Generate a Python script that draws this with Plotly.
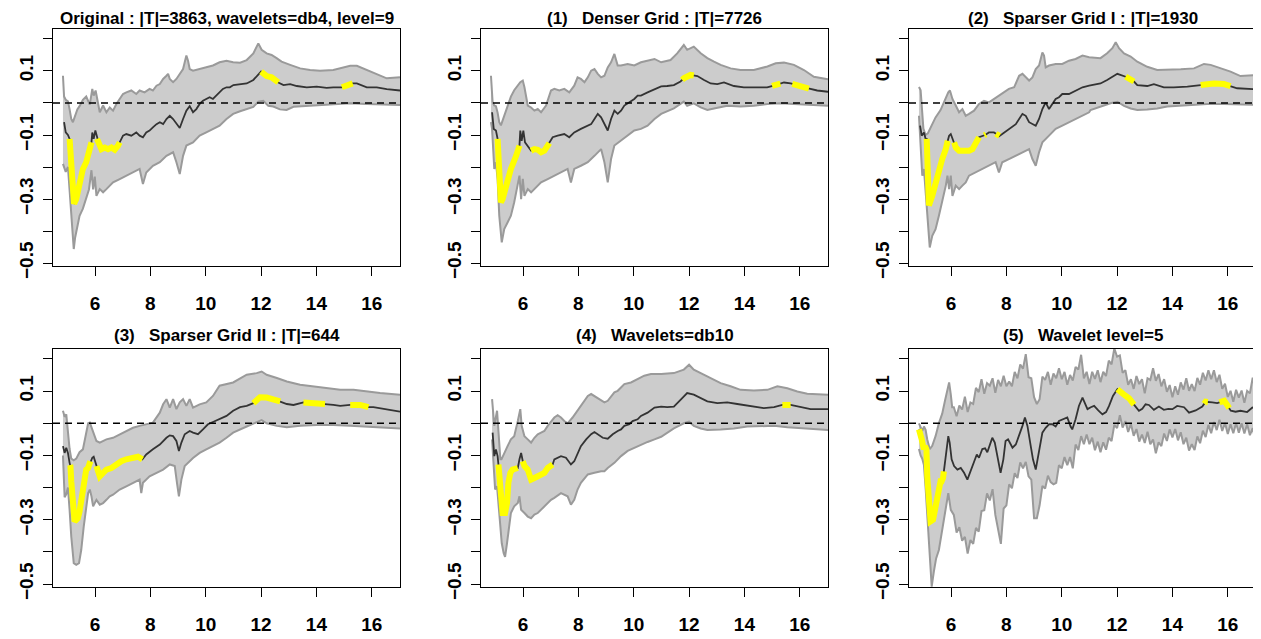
import numpy as np
import plotly.graph_objects as go

# ---------------- axes / labels ----------------
X_RANGE = [4.48, 17.02]
Y_RANGE = [-0.509, 0.231]
X_TICKS = [6, 8, 10, 12, 14, 16]
Y_TICKS = [-0.5, -0.4, -0.3, -0.2, -0.1, 0.0, 0.1, 0.2]
Y_TICK_TEXT = ["\u22120.5", "", "\u22120.3", "", "\u22120.1", "", "0.1", ""]

TITLES = [
    "Original : |T|=3863, wavelets=db4, level=9",
    "(1)   Denser Grid : |T|=7726",
    "(2)   Sparser Grid I : |T|=1930",
    "(3)   Sparser Grid II : |T|=644",
    "(4)   Wavelets=db10",
    "(5)   Wavelet level=5",
]

# ---------------- panel 1 : Original ----------------
p1_mean = [(4.88,-0.06),(4.94,-0.092),(5.02,-0.10),(5.08,-0.112),(5.14,-0.185),(5.20,-0.28),(5.24,-0.315),
    (5.32,-0.30),(5.42,-0.25),(5.56,-0.206),(5.68,-0.185),(5.78,-0.154),(5.87,-0.123),(5.90,-0.092),(5.95,-0.112),
    (6.01,-0.086),(6.07,-0.112),(6.11,-0.118),(6.23,-0.144),(6.35,-0.139),(6.47,-0.144),(6.59,-0.139),(6.71,-0.146),
    (6.83,-0.133),(6.89,-0.123),(7.01,-0.102),(7.13,-0.097),(7.31,-0.102),(7.49,-0.092),(7.61,-0.102),(7.73,-0.107),
    (7.85,-0.092),(7.97,-0.086),(8.09,-0.076),(8.22,-0.066),(8.34,-0.060),(8.46,-0.066),(8.58,-0.050),(8.70,-0.040),
    (8.82,-0.050),(8.94,-0.066),(9.06,-0.078),(9.18,-0.050),(9.30,-0.024),(9.42,-0.010),(9.54,-0.029),(9.66,-0.019),
    (9.78,-0.003),(9.90,0.007),(10.02,0.0125),(10.14,0.018),(10.26,0.0125),(10.38,0.023),(10.50,0.033),(10.62,0.044),
    (10.75,0.049),(10.87,0.049),(11.0,0.056),(11.24,0.058),(11.48,0.061),(11.72,0.072),(11.84,0.084),(12.0,0.098),
    (12.2,0.084),(12.38,0.080),(12.5,0.072),(12.62,0.064),(12.81,0.056),(13.05,0.059),(13.29,0.053),(13.65,0.049),
    (14.01,0.051),(14.37,0.047),(14.61,0.049),(14.92,0.049),(15.31,0.061),(15.46,0.061),(15.82,0.049),(16.18,0.049),
    (16.54,0.043),(17.02,0.039)]
p1_upper = [(4.84,0.085),(4.88,0.02),(4.94,0.01),(5.02,0.005),(5.08,-0.02),(5.14,-0.05),(5.20,-0.06),(5.28,-0.04),
    (5.36,-0.02),(5.44,-0.01),(5.56,0.01),(5.68,0.02),(5.81,-0.005),(5.90,0.044),(5.95,0.023),(6.02,0.039),
    (6.11,-0.008),(6.17,-0.029),(6.29,-0.008),(6.41,-0.029),(6.53,-0.014),(6.65,-0.024),(6.77,-0.003),(6.89,0.0125),
    (7.01,0.028),(7.13,0.033),(7.31,0.039),(7.49,0.028),(7.61,0.039),(7.79,0.033),(7.97,0.044),(8.09,0.039),
    (8.22,0.054),(8.34,0.059),(8.46,0.075),(8.58,0.085),(8.64,0.091),(8.70,0.075),(8.82,0.065),(8.94,0.075),
    (9.06,0.091),(9.18,0.106),(9.24,0.127),(9.30,0.148),(9.36,0.132),(9.42,0.106),(9.54,0.101),(9.78,0.106),
    (10.02,0.111),(10.26,0.117),(10.50,0.127),(10.75,0.132),(10.99,0.127),(11.24,0.126),(11.48,0.134),(11.72,0.155),
    (11.9,0.186),(12.02,0.166),(12.2,0.155),(12.38,0.150),(12.56,0.140),(12.74,0.129),(13.05,0.119),(13.41,0.108),
    (13.77,0.103),(14.13,0.101),(14.61,0.103),(14.98,0.110),(15.22,0.116),(15.46,0.116),(15.82,0.103),(16.18,0.091),
    (16.54,0.077),(17.02,0.080)]
p1_lower = [(4.84,-0.19),(4.94,-0.215),(5.02,-0.20),(5.08,-0.28),(5.14,-0.35),(5.20,-0.42),(5.23,-0.456),(5.28,-0.42),
    (5.32,-0.40),(5.44,-0.352),(5.56,-0.33),(5.68,-0.30),(5.78,-0.27),(5.87,-0.21),(5.93,-0.27),(5.99,-0.23),
    (6.05,-0.29),(6.17,-0.269),(6.29,-0.279),(6.41,-0.269),(6.53,-0.258),(6.65,-0.248),(6.89,-0.2375),(7.13,-0.227),
    (7.37,-0.217),(7.61,-0.206),(7.73,-0.253),(7.85,-0.217),(8.09,-0.196),(8.34,-0.185),(8.58,-0.165),(8.82,-0.154),
    (8.94,-0.185),(9.06,-0.222),(9.18,-0.165),(9.30,-0.133),(9.54,-0.123),(9.78,-0.102),(10.02,-0.092),(10.26,-0.081),
    (10.50,-0.071),(10.75,-0.050),(10.99,-0.034),(11.24,-0.026),(11.48,-0.02),(11.72,-0.012),(11.9,0.004),(12.08,0.007),
    (12.26,-0.009),(12.44,-0.011),(12.68,-0.02),(12.92,-0.022),(13.17,-0.012),(13.65,-0.009),(14.13,-0.007),
    (14.61,-0.003),(15.22,-0.001),(15.82,-0.003),(16.42,-0.004),(17.02,-0.006)]
p1_yellow = [(5.08,5.87),(6.07,6.89),(12.0,12.62),(14.92,15.31)]

# ---------------- panel 2 : Denser grid ----------------
p2_mean = [(4.88,-0.029),(4.94,-0.081),(5.02,-0.086),(5.08,-0.112),(5.14,-0.206),(5.20,-0.31),(5.26,-0.30),
    (5.38,-0.258),(5.56,-0.206),(5.75,-0.165),(5.87,-0.133),(5.90,-0.086),(5.95,-0.118),(6.01,-0.086),(6.07,-0.123),
    (6.29,-0.149),(6.41,-0.144),(6.53,-0.146),(6.65,-0.154),(6.77,-0.149),(6.89,-0.133),(6.95,-0.125),(7.07,-0.107),
    (7.25,-0.102),(7.49,-0.097),(7.67,-0.107),(7.85,-0.092),(8.09,-0.081),(8.34,-0.071),(8.46,-0.066),(8.58,-0.050),
    (8.70,-0.034),(8.82,-0.045),(8.94,-0.066),(9.06,-0.086),(9.18,-0.050),(9.30,-0.024),(9.42,-0.034),(9.54,-0.024),
    (9.66,-0.008),(9.90,0.007),(10.02,0.0125),(10.14,0.023),(10.26,0.023),(10.50,0.033),(10.75,0.044),(10.99,0.052),
    (11.21,0.053),(11.45,0.056),(11.69,0.067),(11.81,0.077),(12.05,0.0875),(12.3,0.084),(12.54,0.072),(12.78,0.061),
    (13.02,0.059),(13.26,0.064),(13.62,0.053),(13.98,0.049),(14.34,0.049),(14.82,0.049),(15.13,0.056),(15.43,0.064),
    (15.67,0.061),(15.91,0.056),(16.27,0.046),(16.63,0.039),(17.02,0.035)]
p2_upper = [(4.84,0.085),(4.90,0.002),(4.96,-0.008),(5.02,-0.01),(5.08,-0.03),(5.14,-0.06),(5.20,-0.07),(5.32,-0.04),
    (5.44,-0.01),(5.56,0.02),(5.68,0.04),(5.78,0.05),(5.90,0.065),(5.99,0.070),(6.05,0.049),(6.17,-0.008),
    (6.29,-0.014),(6.41,-0.024),(6.53,-0.019),(6.65,-0.029),(6.83,-0.008),(7.01,0.039),(7.13,0.044),(7.31,0.039),
    (7.49,0.044),(7.67,0.033),(7.85,0.054),(7.97,0.080),(8.09,0.075),(8.22,0.065),(8.34,0.080),(8.46,0.101),
    (8.58,0.106),(8.70,0.091),(8.82,0.080),(8.94,0.085),(9.06,0.111),(9.18,0.127),(9.30,0.153),(9.42,0.117),
    (9.54,0.117),(9.78,0.122),(10.02,0.117),(10.26,0.127),(10.50,0.132),(10.75,0.1375),(10.99,0.127),(11.33,0.134),
    (11.57,0.155),(11.81,0.181),(11.93,0.166),(12.17,0.176),(12.42,0.155),(12.66,0.140),(12.9,0.129),(13.14,0.119),
    (13.5,0.108),(13.86,0.103),(14.34,0.103),(14.83,0.114),(15.13,0.124),(15.43,0.126),(15.79,0.119),(16.15,0.103),
    (16.51,0.082),(17.02,0.074)]
p2_lower = [(4.84,-0.06),(4.88,-0.081),(4.96,-0.206),(5.02,-0.185),(5.08,-0.2375),(5.14,-0.352),(5.23,-0.435),
    (5.32,-0.394),(5.44,-0.373),(5.56,-0.352),(5.68,-0.31),(5.81,-0.248),(5.87,-0.227),(5.93,-0.300),(5.99,-0.237),
    (6.05,-0.29),(6.17,-0.269),(6.29,-0.279),(6.41,-0.269),(6.53,-0.258),(6.65,-0.248),(6.89,-0.2375),(7.13,-0.227),
    (7.37,-0.217),(7.61,-0.206),(7.73,-0.248),(7.85,-0.206),(8.09,-0.196),(8.34,-0.185),(8.58,-0.165),(8.82,-0.144),
    (8.94,-0.185),(9.06,-0.248),(9.18,-0.175),(9.30,-0.133),(9.54,-0.117),(9.78,-0.102),(10.02,-0.086),(10.26,-0.081),
    (10.50,-0.071),(10.75,-0.050),(10.99,-0.034),(11.45,-0.017),(11.81,0.004),(11.93,-0.009),(12.17,-0.001),
    (12.42,-0.014),(12.66,-0.022),(12.9,-0.017),(13.38,-0.009),(13.86,-0.011),(14.34,-0.009),(14.83,-0.003),
    (15.31,-0.001),(15.79,-0.003),(16.27,-0.006),(17.02,-0.009)]
p2_yellow = [(5.08,5.87),(6.29,6.95),(11.75,12.17),(15.0,15.3),(15.73,16.33)]

# ---------------- panel 3 : Sparser grid I ----------------
p3_mean = [(4.88,-0.071),(4.94,-0.102),(5.02,-0.092),(5.08,-0.112),(5.12,-0.112),(5.15,-0.29),(5.20,-0.32),
    (5.32,-0.29),(5.44,-0.248),(5.56,-0.206),(5.68,-0.175),(5.81,-0.144),(5.88,-0.118),(5.93,-0.102),(5.99,-0.097),
    (6.05,-0.112),(6.11,-0.123),(6.17,-0.139),(6.29,-0.149),(6.47,-0.149),(6.65,-0.149),(6.77,-0.144),(6.89,-0.128),
    (7.01,-0.107),(7.23,-0.100),(7.37,-0.092),(7.55,-0.092),(7.64,-0.097),(7.73,-0.104),(7.85,-0.097),(8.09,-0.081),
    (8.34,-0.066),(8.46,-0.050),(8.58,-0.034),(8.70,-0.040),(8.82,-0.060),(9.06,-0.071),(9.18,-0.050),(9.30,-0.019),
    (9.42,0.002),(9.54,-0.019),(9.66,-0.003),(9.78,0.0125),(9.90,0.018),(10.02,0.028),(10.26,0.028),(10.50,0.039),
    (10.75,0.049),(10.99,0.054),(11.4,0.061),(11.64,0.072),(11.89,0.084),(12.01,0.091),(12.31,0.082),(12.61,0.067),
    (12.73,0.056),(13.09,0.053),(13.33,0.059),(13.69,0.049),(14.05,0.049),(14.54,0.051),(15.02,0.056),(15.5,0.061),
    (15.86,0.059),(16.1,0.053),(16.34,0.046),(17.0,0.043)]
p3_upper = [(4.84,0.05),(4.90,0.04),(4.95,-0.02),(5.00,-0.08),(5.08,-0.10),(5.16,-0.095),(5.30,-0.07),(5.44,-0.045),
    (5.62,-0.022),(5.75,0.005),(5.86,0.03),(5.90,0.033),(5.96,0.039),(6.05,0.0125),(6.17,-0.008),(6.29,-0.029),
    (6.41,-0.019),(6.53,-0.04),(6.65,-0.034),(6.83,-0.024),(7.01,-0.003),(7.19,0.007),(7.37,0.002),(7.55,0.0125),
    (7.73,0.023),(7.91,0.033),(8.09,0.044),(8.28,0.049),(8.46,0.085),(8.58,0.091),(8.70,0.080),(8.82,0.070),
    (8.94,0.080),(9.06,0.106),(9.18,0.117),(9.30,0.158),(9.36,0.148),(9.42,0.111),(9.54,0.117),(9.78,0.122),
    (10.02,0.122),(10.26,0.132),(10.50,0.1375),(10.75,0.148),(10.99,0.143),(11.4,0.14),(11.64,0.155),(11.83,0.171),
    (11.95,0.19),(12.07,0.171),(12.25,0.155),(12.49,0.145),(12.73,0.129),(13.09,0.113),(13.45,0.103),(13.81,0.103),
    (14.3,0.105),(14.78,0.108),(15.14,0.122),(15.38,0.119),(15.74,0.108),(16.1,0.098),(16.46,0.084),(17.0,0.0875)]
p3_lower = [(4.84,-0.04),(4.88,-0.10),(4.96,-0.227),(5.02,-0.206),(5.08,-0.269),(5.14,-0.352),(5.23,-0.451),
    (5.32,-0.415),(5.44,-0.394),(5.56,-0.352),(5.68,-0.31),(5.81,-0.258),(5.87,-0.227),(5.93,-0.269),(5.99,-0.227),
    (6.05,-0.29),(6.17,-0.258),(6.29,-0.269),(6.41,-0.258),(6.53,-0.248),(6.65,-0.227),(6.89,-0.217),(7.13,-0.206),
    (7.37,-0.196),(7.61,-0.185),(7.73,-0.217),(7.85,-0.185),(8.09,-0.175),(8.34,-0.165),(8.58,-0.154),(8.82,-0.144),
    (8.94,-0.175),(9.06,-0.196),(9.18,-0.154),(9.30,-0.123),(9.54,-0.102),(9.78,-0.081),(10.02,-0.071),(10.26,-0.060),
    (10.50,-0.050),(10.75,-0.040),(10.99,-0.029),(11.04,-0.022),(11.4,-0.011),(11.76,-0.001),(12.01,0.004),
    (12.25,-0.009),(12.49,-0.017),(12.73,-0.022),(13.09,-0.020),(13.45,-0.017),(13.81,-0.011),(14.3,-0.009),
    (14.78,-0.005),(15.26,-0.003),(15.86,-0.003),(16.46,-0.004),(17.0,-0.006)]
p3_yellow = [(5.12,5.88),(6.11,7.01),(7.2,7.26),(7.62,7.75),(12.31,12.61),(15.02,16.1)]

# ---------------- panel 4 : Sparser grid II ----------------
p4_mean = [(4.84,-0.071),(4.90,-0.092),(4.96,-0.076),(5.02,-0.092),(5.08,-0.123),(5.11,-0.133),(5.14,-0.180),
    (5.18,-0.243),(5.23,-0.284),(5.26,-0.305),(5.32,-0.300),(5.38,-0.295),(5.44,-0.274),(5.50,-0.2375),(5.56,-0.206),
    (5.62,-0.175),(5.68,-0.144),(5.75,-0.139),(5.83,-0.118),(5.90,-0.107),(5.95,-0.104),(6.05,-0.133),(6.17,-0.165),
    (6.29,-0.154),(6.41,-0.144),(6.59,-0.139),(6.77,-0.128),(6.95,-0.118),(7.13,-0.112),(7.37,-0.107),(7.55,-0.104),
    (7.71,-0.112),(7.85,-0.097),(8.09,-0.081),(8.34,-0.066),(8.58,-0.045),(8.70,-0.0375),(8.82,-0.040),(8.94,-0.055),
    (9.03,-0.086),(9.12,-0.060),(9.24,-0.034),(9.42,-0.024),(9.54,-0.029),(9.72,-0.034),(9.90,-0.019),(10.08,-0.003),
    (10.26,0.004),(10.50,0.0125),(10.75,0.023),(10.99,0.039),(11.24,0.05),(11.48,0.054),(11.72,0.0625),(11.96,0.081),
    (12.2,0.080),(12.45,0.075),(12.69,0.068),(12.93,0.06),(13.17,0.057),(13.53,0.065),(13.89,0.0625),(14.31,0.06),
    (14.61,0.057),(14.86,0.054),(15.22,0.057),(15.58,0.057),(15.88,0.05),(16.06,0.05),(16.42,0.044),(17.02,0.036)]
p4_upper = [(4.84,0.039),(4.90,0.02),(4.96,0.028),(5.02,-0.03),(5.08,-0.08),(5.14,-0.11),(5.23,-0.115),(5.32,-0.11),
    (5.44,-0.09),(5.56,-0.081),(5.68,-0.029),(5.75,0.0),(5.81,0.002),(5.93,-0.029),(6.05,-0.055),(6.17,-0.06),
    (6.41,-0.05),(6.65,-0.045),(6.89,-0.034),(7.13,-0.024),(7.37,-0.014),(7.61,-0.008),(7.85,-0.003),(8.09,0.002),
    (8.34,0.033),(8.46,0.059),(8.58,0.075),(8.70,0.049),(8.82,0.075),(8.94,0.044),(9.06,0.065),(9.18,0.075),
    (9.30,0.054),(9.42,0.075),(9.54,0.049),(9.78,0.059),(10.02,0.065),(10.26,0.085),(10.50,0.117),(10.75,0.122),
    (10.99,0.127),(11.48,0.151),(11.84,0.156),(12.02,0.161),(12.2,0.151),(12.57,0.141),(12.93,0.13),(13.41,0.12),
    (13.89,0.115),(14.37,0.109),(14.86,0.104),(15.34,0.104),(15.82,0.099),(16.3,0.094),(17.02,0.089)]
p4_lower = [(4.84,-0.10),(4.90,-0.23),(4.96,-0.22),(5.02,-0.20),(5.08,-0.269),(5.14,-0.352),(5.23,-0.435),
    (5.32,-0.44),(5.42,-0.435),(5.50,-0.394),(5.59,-0.321),(5.68,-0.258),(5.75,-0.217),(5.81,-0.206),(5.87,-0.227),
    (5.93,-0.258),(6.05,-0.238),(6.17,-0.253),(6.29,-0.248),(6.41,-0.238),(6.53,-0.227),(6.65,-0.222),(6.89,-0.206),
    (7.13,-0.196),(7.37,-0.185),(7.61,-0.175),(7.67,-0.217),(7.73,-0.185),(7.97,-0.165),(8.22,-0.154),(8.46,-0.144),
    (8.70,-0.128),(8.88,-0.133),(8.96,-0.185),(9.03,-0.227),(9.12,-0.175),(9.24,-0.133),(9.54,-0.108),(9.78,-0.092),
    (10.02,-0.081),(10.26,-0.071),(10.50,-0.060),(10.75,-0.045),(10.99,-0.029),(11.48,-0.01),(11.84,0.005),
    (12.02,0.01),(12.2,0.0),(12.57,-0.008),(12.93,-0.0125),(13.41,-0.008),(14.01,-0.005),(14.61,-0.005),
    (15.22,-0.008),(15.82,-0.01),(16.42,-0.0125),(17.02,-0.016)]
p4_yellow = [(5.10,5.83),(6.05,7.71),(11.72,12.69),(13.53,14.31),(15.22,15.88)]

# ---------------- panel 5 : db10 ----------------
p5_mean = [(4.90,-0.029),(4.96,-0.102),(5.02,-0.081),(5.08,-0.102),(5.11,-0.128),(5.20,-0.258),(5.26,-0.279),
    (5.35,-0.279),(5.42,-0.248),(5.47,-0.185),(5.54,-0.154),(5.62,-0.144),(5.75,-0.139),(5.81,-0.139),(5.87,-0.112),
    (5.93,-0.092),(5.99,-0.118),(6.05,-0.133),(6.17,-0.144),(6.29,-0.175),(6.41,-0.170),(6.53,-0.165),(6.65,-0.159),
    (6.77,-0.154),(6.89,-0.139),(7.01,-0.133),(7.07,-0.128),(7.13,-0.112),(7.37,-0.102),(7.55,-0.107),(7.73,-0.128),
    (7.85,-0.118),(7.97,-0.092),(8.09,-0.071),(8.28,-0.050),(8.46,-0.034),(8.58,-0.027),(8.70,-0.034),(8.88,-0.045),
    (9.06,-0.048),(9.24,-0.034),(9.42,-0.024),(9.54,-0.019),(9.66,-0.008),(9.84,-0.003),(9.96,0.007),(10.14,0.0125),
    (10.26,0.023),(10.50,0.033),(10.75,0.049),(10.99,0.052),(11.21,0.05),(11.45,0.052),(11.69,0.073),(11.93,0.094),
    (12.17,0.089),(12.42,0.078),(12.66,0.068),(13.02,0.0625),(13.38,0.065),(13.74,0.06),(14.22,0.054),(14.7,0.047),
    (15.07,0.05),(15.37,0.057),(15.67,0.057),(16.03,0.05),(16.39,0.044),(17.02,0.044)]
p5_upper = [(4.88,0.075),(4.96,-0.008),(5.06,0.039),(5.11,-0.029),(5.18,-0.112),(5.22,-0.112),(5.32,-0.092),
    (5.44,-0.071),(5.56,-0.05),(5.68,-0.04),(5.81,0.007),(5.90,0.044),(5.95,-0.008),(6.05,-0.04),(6.17,-0.05),
    (6.29,-0.06),(6.41,-0.045),(6.53,-0.034),(6.65,-0.029),(6.77,-0.024),(6.89,-0.008),(7.01,0.007),(7.13,0.018),
    (7.25,0.025),(7.37,0.018),(7.49,0.007),(7.61,0.0),(7.79,0.018),(7.97,0.039),(8.09,0.054),(8.22,0.070),
    (8.34,0.085),(8.46,0.091),(8.58,0.085),(8.76,0.075),(8.94,0.065),(9.06,0.070),(9.18,0.085),(9.30,0.096),
    (9.42,0.101),(9.54,0.111),(9.66,0.122),(9.90,0.127),(10.14,0.138),(10.38,0.148),(10.62,0.153),(10.99,0.153),
    (11.45,0.156),(11.81,0.167),(12.0,0.182),(12.17,0.167),(12.42,0.156),(12.66,0.146),(12.9,0.135),(13.14,0.125),
    (13.5,0.115),(13.86,0.104),(14.34,0.102),(14.83,0.104),(15.19,0.115),(15.55,0.109),(15.91,0.099),(16.27,0.092),
    (17.02,0.0885)]
p5_lower = [(4.88,-0.05),(4.99,-0.206),(5.06,-0.196),(5.14,-0.269),(5.23,-0.373),(5.30,-0.404),(5.35,-0.415),
    (5.42,-0.373),(5.50,-0.31),(5.56,-0.279),(5.68,-0.258),(5.81,-0.248),(5.87,-0.227),(5.93,-0.269),(6.05,-0.279),
    (6.17,-0.29),(6.29,-0.295),(6.41,-0.284),(6.53,-0.279),(6.65,-0.269),(6.77,-0.258),(6.89,-0.248),(7.01,-0.238),
    (7.13,-0.232),(7.37,-0.217),(7.61,-0.227),(7.73,-0.253),(7.85,-0.238),(7.97,-0.206),(8.09,-0.185),(8.22,-0.170),
    (8.34,-0.159),(8.58,-0.154),(8.82,-0.149),(8.94,-0.149),(9.06,-0.139),(9.30,-0.123),(9.54,-0.102),(9.78,-0.086),
    (10.02,-0.076),(10.26,-0.066),(10.50,-0.058),(10.75,-0.050),(10.99,-0.042),(11.45,-0.016),(11.81,0.0),
    (12.0,0.005),(12.17,-0.008),(12.42,-0.016),(12.66,-0.021),(13.14,-0.019),(13.62,-0.016),(14.1,-0.01),
    (14.58,-0.008),(15.07,-0.008),(15.55,-0.0125),(16.15,-0.016),(17.02,-0.021)]
p5_yellow = [(5.11,5.81),(5.99,7.07),(15.37,15.67)]

# ---------------- panel 6 : wavelet level 5 ----------------
p6_mean = [(4.84,-0.019),(4.88,-0.029),(4.94,-0.05),(4.99,-0.071),(5.02,-0.081),(5.06,-0.071),(5.11,-0.081),
    (5.14,-0.165),(5.18,-0.238),(5.23,-0.290),(5.26,-0.305),(5.35,-0.30),(5.42,-0.269),(5.50,-0.227),(5.56,-0.196),
    (5.62,-0.180),(5.66,-0.180),(5.71,-0.170),(5.78,-0.123),(5.83,-0.071),(5.90,-0.040),(5.95,-0.060),(6.02,-0.112),
    (6.11,-0.133),(6.23,-0.144),(6.35,-0.139),(6.47,-0.154),(6.59,-0.175),(6.71,-0.149),(6.83,-0.118),(6.93,-0.097),
    (7.01,-0.107),(7.13,-0.080),(7.23,-0.078),(7.31,-0.090),(7.43,-0.060),(7.49,-0.045),(7.58,-0.060),(7.67,-0.100),
    (7.79,-0.154),(7.89,-0.112),(7.97,-0.055),(8.06,-0.050),(8.13,-0.060),(8.22,-0.076),(8.34,-0.066),(8.46,-0.040),
    (8.58,-0.008),(8.67,0.018),(8.76,-0.008),(8.88,-0.071),(8.96,-0.112),(9.06,-0.144),(9.15,-0.102),(9.24,-0.060),
    (9.30,-0.029),(9.42,-0.014),(9.54,-0.003),(9.66,-0.003),(9.78,-0.010),(9.90,0.007),(9.99,0.010),(10.08,0.0125),
    (10.20,0.018),(10.32,-0.010),(10.38,-0.019),(10.50,0.0125),(10.62,0.054),(10.75,0.080),(10.85,0.060),
    (10.93,0.044),(11.05,0.050),(11.17,0.054),(11.32,0.040),(11.47,0.028),(11.60,0.035),(11.71,0.054),(11.85,0.085),
    (12.01,0.106),(12.13,0.095),(12.25,0.089),(12.43,0.078),(12.61,0.058),(12.79,0.039),(12.91,0.045),(13.03,0.059),
    (13.15,0.057),(13.33,0.042),(13.51,0.052),(13.69,0.042),(13.85,0.045),(14.0,0.044),(14.17,0.054),(14.42,0.050),
    (14.60,0.033),(14.84,0.040),(15.08,0.052),(15.20,0.067),(15.44,0.065),(15.62,0.0625),(15.87,0.070),(15.98,0.057),
    (16.11,0.039),(16.28,0.036),(16.46,0.039),(16.70,0.035),(16.89,0.049),(17.0,0.047)]
p6_upper_head = [(4.84,0.0),(4.90,-0.01),(4.96,-0.024),(5.02,-0.01),(5.08,-0.02),(5.14,-0.05),(5.23,-0.08),
    (5.32,-0.07),(5.44,-0.04),(5.56,0.0),(5.68,0.03),(5.78,0.07),(5.87,0.10),(5.93,0.127),(5.99,0.09),(6.04,0.05)]
p6_lower_head = [(4.84,-0.08),(4.90,-0.10),(4.96,-0.11),(5.02,-0.13),(5.08,-0.20),(5.14,-0.29),(5.23,-0.41),
    (5.30,-0.508),(5.38,-0.46),(5.46,-0.42),(5.56,-0.394),(5.68,-0.331),(5.81,-0.258),(5.90,-0.217),(5.99,-0.269)]
p6_tail_x = [round(6.1 + 0.1 * i, 1) for i in range(110)]
p6_upper_tail = [0.050,0.022,0.055,0.043,0.083,0.035,0.065,0.060,0.110,0.097,0.137,0.092,0.125,0.117,0.140,0.095,
    0.135,0.115,0.148,0.115,0.130,0.115,0.160,0.140,0.183,0.170,0.215,0.143,0.140,0.081,0.060,0.075,0.145,0.135,
    0.160,0.120,0.155,0.140,0.171,0.137,0.160,0.120,0.150,0.133,0.175,0.167,0.213,0.140,0.160,0.122,0.160,0.138,
    0.165,0.128,0.160,0.147,0.195,0.183,0.233,0.207,0.211,0.157,0.165,0.120,0.137,0.107,0.147,0.122,0.137,0.093,
    0.140,0.135,0.171,0.132,0.153,0.115,0.137,0.098,0.119,0.081,0.115,0.089,0.127,0.105,0.140,0.101,0.122,0.100,
    0.141,0.120,0.157,0.133,0.165,0.137,0.165,0.128,0.151,0.107,0.123,0.082,0.101,0.067,0.104,0.080,0.102,0.064,
    0.101,0.093,0.142,0.103]
p6_lower_tail = [-0.285,-0.340,-0.323,-0.365,-0.353,-0.405,-0.363,-0.375,-0.325,-0.337,-0.273,-0.270,-0.218,-0.240,
    -0.205,-0.285,-0.335,-0.375,-0.265,-0.255,-0.190,-0.202,-0.155,-0.170,-0.122,-0.140,-0.120,-0.165,-0.175,-0.295,
    -0.295,-0.255,-0.195,-0.203,-0.163,-0.183,-0.190,-0.185,-0.130,-0.140,-0.105,-0.130,-0.105,-0.140,-0.066,-0.083,
    -0.040,-0.065,-0.035,-0.065,-0.045,-0.084,-0.057,-0.090,-0.059,-0.082,-0.045,-0.055,-0.005,-0.015,0.025,-0.013,
    0.007,-0.027,-0.002,-0.039,-0.018,-0.057,-0.035,-0.061,-0.026,-0.065,-0.050,-0.093,-0.059,-0.071,-0.032,-0.055,
    -0.019,-0.044,-0.018,-0.053,-0.028,-0.065,-0.045,-0.085,-0.065,-0.083,-0.041,-0.062,-0.023,-0.043,-0.005,-0.031,
    0.004,-0.021,0.011,-0.024,0.001,-0.033,-0.003,-0.031,0.000,-0.029,0.000,-0.032,-0.003,-0.037,-0.015,-0.055]
p6_upper = p6_upper_head + list(zip(p6_tail_x, p6_upper_tail))
p6_lower = p6_lower_head + list(zip(p6_tail_x, p6_lower_tail))
p6_yellow = [(4.84,5.74),(12.01,12.61),(15.15,15.28),(15.7,16.05)]

PANELS = [
    (p1_mean, p1_upper, p1_lower, p1_yellow),
    (p2_mean, p2_upper, p2_lower, p2_yellow),
    (p3_mean, p3_upper, p3_lower, p3_yellow),
    (p4_mean, p4_upper, p4_lower, p4_yellow),
    (p5_mean, p5_upper, p5_lower, p5_yellow),
    (p6_mean, p6_upper, p6_lower, p6_yellow),
]

# ---------------- styling ----------------
PAGE_W, PAGE_H = 1261, 639
BODY = 8                       # default page body margin around the plot div
W, H = PAGE_W - BODY, PAGE_H - BODY
COLS_PX = [(53, 400), (481, 828), (909, 1256)]   # page pixel positions of plot boxes
ROWS_PX = [(29, 266), (349, 587)]
TITLE_Y_PX = [13, 335]
FILL = "#cccccc"
EDGE = "#9a9a9a"
MEAN = "#333333"
YELLOW = "#ffff00"
FONT = "Liberation Sans, Arial, Helvetica, sans-serif"


def unzip(pairs):
    return [p[0] for p in pairs], [p[1] for p in pairs]


def yellow_segments(mx, my, ranges):
    xs, ys = [], []
    for a, b in ranges:
        seg = [a] + [v for v in mx if a < v < b] + [b]
        xs += seg + [None]
        ys += list(np.interp(seg, mx, my)) + [None]
    return xs, ys


def fx(px):
    return (px - BODY) / W


def fy(py):
    return 1 - (py - BODY) / H


fig = go.Figure()
layout = dict(width=W, height=H, margin=dict(l=0, r=0, t=0, b=0, autoexpand=False), paper_bgcolor="white",
              plot_bgcolor="white", showlegend=False, shapes=[], annotations=[])

for i, (mean, upper, lower, yellow) in enumerate(PANELS):
    r, c = divmod(i, 3)
    n = i + 1
    suffix = "" if n == 1 else str(n)
    xa, ya = "x" + suffix, "y" + suffix
    mx, my = unzip(mean)
    ux, uy = unzip(upper)
    lx, ly = unzip(lower)
    fig.add_trace(go.Scatter(x=ux + lx[::-1], y=uy + ly[::-1], fill="toself", fillcolor=FILL,
                             mode="lines", line=dict(width=0, color=FILL), xaxis=xa, yaxis=ya, hoverinfo="skip"))
    fig.add_trace(go.Scatter(x=ux, y=uy, mode="lines", line=dict(color=EDGE, width=2), xaxis=xa, yaxis=ya))
    fig.add_trace(go.Scatter(x=lx, y=ly, mode="lines", line=dict(color=EDGE, width=2), xaxis=xa, yaxis=ya))
    fig.add_trace(go.Scatter(x=mx, y=my, mode="lines", line=dict(color=MEAN, width=1.8), xaxis=xa, yaxis=ya))
    yx, yy = yellow_segments(mx, my, yellow)
    fig.add_trace(go.Scatter(x=yx, y=yy, mode="lines", line=dict(color=YELLOW, width=6),
                             xaxis=xa, yaxis=ya))

    L, R = COLS_PX[c]
    T, B = ROWS_PX[r]
    layout["xaxis" + suffix] = dict(
        domain=[fx(L), fx(R)], anchor=ya, range=X_RANGE, tickvals=X_TICKS, automargin=False,
        ticks="outside", ticklen=9, tickwidth=1.3, tickcolor="black",
        showline=True, mirror=True, linecolor="black", linewidth=1.3,
        showgrid=False, zeroline=False, ticklabelstandoff=11,
        tickfont=dict(family=FONT, size=19, color="black", weight="bold"))
    layout["yaxis" + suffix] = dict(
        domain=[fy(B), fy(T)], anchor=xa, range=Y_RANGE, tickvals=Y_TICKS, automargin=False,
        ticktext=Y_TICK_TEXT, tickangle=-90,
        ticks="outside", ticklen=9, tickwidth=1.3, tickcolor="black",
        showline=True, mirror=True, linecolor="black", linewidth=1.3,
        showgrid=False, zeroline=False, ticklabelstandoff=2,
        tickfont=dict(family=FONT, size=19, color="black", weight="bold"))
    layout["shapes"].append(dict(type="line", xref=xa + " domain", yref=ya, x0=0, x1=1, y0=0, y1=0,
                                 line=dict(color="black", width=1.5, dash="7px,5px"), layer="above"))
    if r == 0:
        ty, tanchor = 1.0, "top"          # top row: keep title inside the figure
    else:
        ty, tanchor = fy(TITLE_Y_PX[r]), "middle"
    layout["annotations"].append(dict(text=f"<b>{TITLES[i]}</b>", xref="paper", yref="paper",
                                      x=fx((L + R) / 2), y=ty, xanchor="center", borderpad=0,
                                      yanchor=tanchor, showarrow=False,
                                      font=dict(family=FONT, size=17, color="black")))

fig.update_layout(**layout)
fig.write_html("out.html")
